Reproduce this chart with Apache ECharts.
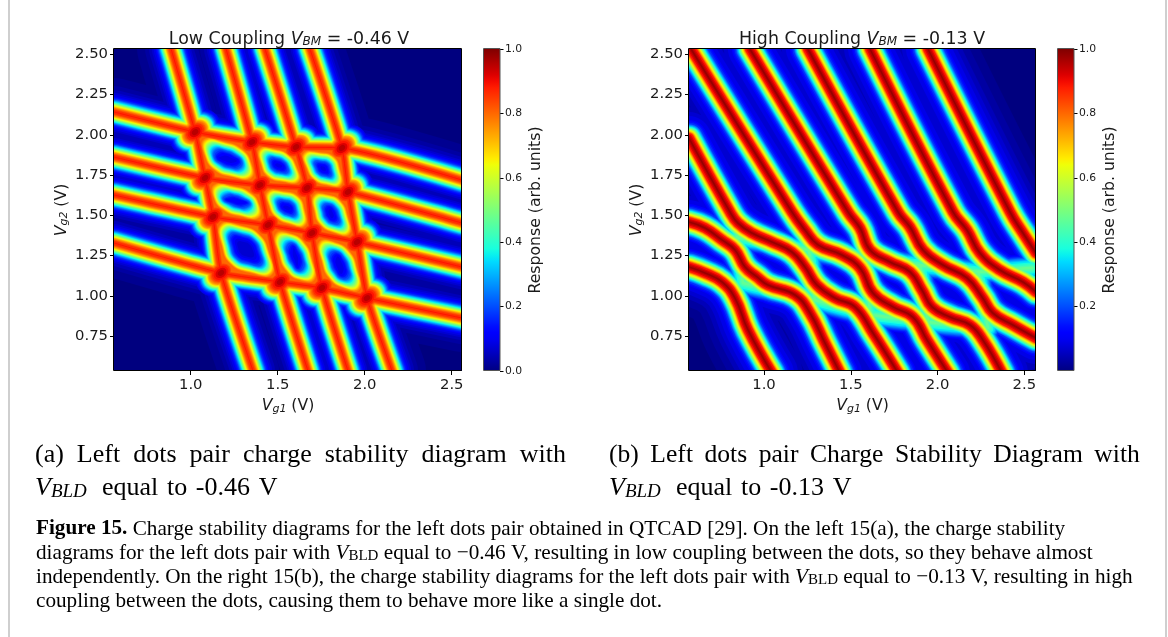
<!DOCTYPE html>
<html><head><meta charset="utf-8">
<style>html,body{margin:0;padding:0;background:#fff}#c{width:1168px;height:637px}</style>
<script src="https://cdn.jsdelivr.net/npm/echarts@6/dist/echarts.min.js"></script>
</head><body><div id="c"></div>
<script>
// Ridge centre lines, [Vg1, Vg2] in volts
const lowSteep = [
 [[.887,2.533],[1.025,2.017],[1.082,1.732],[1.128,1.490],[1.174,1.142],[1.358,.533]],
 [[1.203,2.533],[1.352,1.955],[1.398,1.688],[1.444,1.440],[1.513,1.086],[1.674,.533]],
 [[1.427,2.533],[1.605,1.924],[1.668,1.670],[1.697,1.390],[1.754,1.049],[1.904,.533]],
 [[1.685,2.533],[1.869,1.918],[1.904,1.645],[1.956,1.334],[2.013,.986],[2.157,.533]]
];
const lowShallow = [
 [[.559,2.142],[1.025,2.017],[1.352,1.955],[1.605,1.924],[1.869,1.918],[2.559,1.719]],
 [[.559,1.862],[1.082,1.732],[1.398,1.688],[1.668,1.670],[1.904,1.645],[2.559,1.452]],
 [[.559,1.626],[1.128,1.490],[1.444,1.440],[1.697,1.390],[1.956,1.334],[2.559,1.179]],
 [[.559,1.328],[1.174,1.142],[1.513,1.086],[1.754,1.049],[2.013,.986],[2.559,.862]]
];
const lowCrossings = [
 [1.025,2.017],[1.352,1.955],[1.605,1.924],[1.869,1.918],
 [1.082,1.732],[1.398,1.688],[1.668,1.670],[1.904,1.645],
 [1.128,1.490],[1.444,1.440],[1.697,1.390],[1.956,1.334],
 [1.174,1.142],[1.513,1.086],[1.754,1.049],[2.013,.986]
];
const highRidges = [
 [[.568,1.980],[.804,1.521],[.850,1.452],[.931,1.390],[1.046,1.334],[1.161,1.272],[1.236,1.179],[1.305,1.067],[1.409,.986],[1.524,.931],[1.628,.769],[1.772,.521]],
 [[.580,2.533],[1.161,1.521],[1.236,1.409],[1.311,1.316],[1.449,1.254],[1.553,1.173],[1.628,1.018],[1.743,.931],[1.858,.868],[1.939,.726],[2.060,.521]],
 [[.919,2.533],[1.484,1.521],[1.553,1.421],[1.611,1.285],[1.726,1.210],[1.841,1.148],[1.910,1.036],[1.968,.931],[2.071,.868],[2.187,.819],[2.261,.726],[2.371,.521]],
 [[1.253,2.533],[1.772,1.521],[1.841,1.427],[1.916,1.285],[2.031,1.191],[2.169,1.111],[2.256,.993],[2.319,.893],[2.434,.819],[2.567,.738]],
 [[1.611,2.533],[2.089,1.521],[2.169,1.409],[2.244,1.266],[2.359,1.160],[2.492,1.086],[2.567,1.024]],
 [[1.945,2.533],[2.417,1.521],[2.492,1.390],[2.567,1.266]],
 [[.568,1.458],[.660,1.421],[.758,1.347],[.833,1.285],[.891,1.179],[.960,1.117],[1.023,1.067],[1.179,1.005],[1.265,.893],[1.351,.707],[1.438,.521]],
 [[.568,1.179],[.660,1.142],[.758,1.086],[.833,.986],[.908,.788],[1.046,.521]]
];
const highFaint = [
 [[.844,1.365],[1.259,1.285],[1.588,1.222],[1.899,1.191],[2.233,1.148],[2.544,1.173]],
 [[.879,1.080],[1.294,.974],[1.611,.881],[1.945,.837],[2.290,.800]],
 [[.844,1.365],[.879,1.080]],
 [[1.259,1.285],[1.294,.974]],
 [[1.588,1.222],[1.611,.881]],
 [[1.899,1.191],[1.945,.837]],
 [[2.233,1.148],[2.290,.800]]
];
const ticksVg1 = [1.0,1.5,2.0,2.5];
const ticksVg2 = [.75,1.0,1.25,1.5,1.75,2.0,2.25,2.5];
const ticksBarA = [0,.2,.4,.6,.8,1.0];
const ticksBarB = [.2,.4,.6,.8,1.0];
const barTop = [1];

// Colour levels of the jet response scale
const levels=[.015,.03,.05,.07,.09,.11,.14,.17,.2,.23,.26,.29,.32,.35,.38,.41,.44,.47,.5,.53,.56,.59,.62,.65,.68,.71,.74,.77,.8,.83,.86,.89,.92,.95,.98];
const SPLIT=.8;
const lerp=(a,x0,x1,y0,y1)=>y0+(y1-y0)*(a-x0)/(x1-x0);
function pw(v,k){for(let i=1;i<k.length;i++){if(v<=k[i][0])return lerp(v,k[i-1][0],k[i][0],k[i-1][1],k[i][1]);}return k[k.length-1][1];}
function jet(v){
 const r=pw(v,[[0,0],[.35,0],[.66,1],[.89,1],[1,.5]]),g=pw(v,[[0,0],[.125,0],[.375,1],[.64,1],[.91,0],[1,0]]),b=pw(v,[[0,.5],[.11,1],[.34,1],[.65,0],[1,0]]);
 return 'rgb('+[r,g,b].map(c=>Math.round(c*255)).join(',')+')';
}
const lowProfile=[[0,60],[.015,34],[.03,26],[.06,20],[.11,15.5],[.2,12.5],[.35,10],[.5,8],[.65,6],[.75,4.5],[.85,2.5],[.9,0],[2,0]];
const lowBlob=[[0,0],[.089,0],[.09,23],[.11,22],[.2,19.5],[.35,17],[.5,15],[.65,13],[.75,11.5],[.87,8],[.92,5],[.97,1.5],[.98,0],[2,0]];
const highProfile=[[0,60],[.02,42],[.04,33],[.07,26],[.11,18],[.2,14],[.35,11.5],[.5,9.5],[.65,7.5],[.75,6],[.89,4.5],[1,0],[2,0]];
const faintProfile=[[0,24],[.11,14],[.2,11],[.35,7],[.5,0],[2,0]];
const blobPath='path://M0,1A1,1 0 1 1 2,1A1,1 0 1 1 0,1Z';
const TIP=.92,ROUND=.74,BAND=1.12;

// Cell quads follow from the crossings grid
const quads=[];
for(let r=0;r<3;r++)for(let c=0;c<3;c++){
 const A=lowCrossings[r*4+c],B=lowCrossings[r*4+c+1],C=lowCrossings[(r+1)*4+c+1],D=lowCrossings[(r+1)*4+c];
 quads.push([A[0],A[1],B[0],B[1],C[0],C[1],D[0],D[1]]);
}
function lensPoints(q,v){
 const hw=pw(v,lowProfile)*BAND;
 const O=[(q[0][0]+q[1][0]+q[2][0]+q[3][0])/4,(q[0][1]+q[1][1]+q[2][1]+q[3][1])/4];
 const mid=(a,b)=>[(a[0]+b[0])/2,(a[1]+b[1])/2];
 const ms=[mid(q[0],q[1]),mid(q[1],q[2]),mid(q[2],q[3]),mid(q[3],q[0])];
 const ds=ms.map(m=>Math.hypot(m[0]-O[0],m[1]-O[1]));
 if(Math.min(...ds)-hw<2)return null;
 const t=1-hw/Math.min(...ds);
 const pts=[];
 for(let i=0;i<4;i++){
  const f=t*(i%2===0?TIP:ROUND);
  pts.push([O[0]+(q[i][0]-O[0])*f,O[1]+(q[i][1]-O[1])*f]);
  const e=1-hw/ds[i];
  pts.push([O[0]+(ms[i][0]-O[0])*e,O[1]+(ms[i][1]-O[1])*e]);
 }
 return pts;
}
const quadCoords=api=>{const pts=[];for(let i=0;i<8;i+=2)pts.push(api.coord([api.value(i),api.value(i+1)]));return pts;};

function flat(rs){const o=[];rs.forEach(r=>{r.forEach(p=>o.push(p));o.push([NaN,NaN]);});return o;}
const series=[];let zn=1;
function addLine(g,data,color,w,smooth){
 if(w<=0)return;
 series.push({type:'line',z:zn++,xAxisIndex:g,yAxisIndex:g,data,showSymbol:false,symbol:'none',silent:true,animation:false,smooth,connectNulls:false,
  lineStyle:{color,width:w,cap:'round',join:'round'}});
}
function addBlobs(v){
 const d=2*pw(v,lowBlob);
 if(d>0)series.push({type:'scatter',z:zn++,xAxisIndex:0,yAxisIndex:0,data:lowCrossings,symbol:blobPath,symbolKeepAspect:false,symbolSize:[d*1.2,d*.9],symbolRotate:38,silent:true,animation:false,clip:false,itemStyle:{color:jet(v),opacity:1}});
}
const lowAll=flat(lowSteep.concat(lowShallow)),highAll=flat(highRidges),faintAll=flat(highFaint);
const below=levels.filter(v=>v<=SPLIT),above=levels.filter(v=>v>SPLIT);
below.forEach(v=>{addLine(0,lowAll,jet(v),2*pw(v,lowProfile),.2);addBlobs(v);});
series.push({type:'custom',z:zn++,xAxisIndex:0,yAxisIndex:0,coordinateSystem:'cartesian2d',silent:true,animation:false,clip:false,data:quads,
 renderItem:(p,api)=>({type:'polygon',shape:{points:quadCoords(api)},style:{fill:jet(SPLIT)}})});
below.slice().reverse().forEach(v=>{
 if(v<.07)return;
 series.push({type:'custom',z:zn++,xAxisIndex:0,yAxisIndex:0,coordinateSystem:'cartesian2d',silent:true,animation:false,clip:false,data:quads,
  renderItem:(p,api)=>{const pts=lensPoints(quadCoords(api),v);if(!pts)return null;
   return {type:'polygon',shape:{points:pts,smooth:.5},style:{fill:jet(v)}};}});
});
above.forEach(v=>{addLine(0,lowAll,jet(v),2*pw(v,lowProfile),.2);addBlobs(v);});
levels.forEach(v=>{
 const c=jet(v);
 addLine(2,faintAll,c,2*pw(v,faintProfile),false);
 addLine(2,highAll,c,2*pw(v,highProfile),.45);
});
const stops=[];for(let i=50;i>=0;i--)stops.push({offset:1-i/50,color:jet(i/50)});
const grad={type:'linear',x:0,y:0,x2:0,y2:1,colorStops:stops};
[1,3].forEach(g=>series.push({type:'bar',z:1001,xAxisIndex:g,yAxisIndex:g,data:barTop,barWidth:'100%',silent:true,animation:false,itemStyle:{color:grad}}));

const F='"DejaVu Sans"',ink='#1a1a1a',AF=15.7;
const axRich={i:{fontFamily:F,fontStyle:'italic',fontSize:AF,color:ink},s:{fontFamily:F,fontStyle:'italic',fontSize:11,color:ink,verticalAlign:'bottom',padding:[6,0,0,0]},r:{fontFamily:F,fontSize:AF,color:ink}};
const mkX=(g,mn,mx)=>({gridIndex:g,z:1002,type:'value',min:mn,max:mx,splitLine:{show:false},axisLine:{show:false},
 axisTick:{show:true,customValues:ticksVg1,length:4,lineStyle:{color:'#000'}},
 axisLabel:{show:true,customValues:ticksVg1,formatter:v=>v.toFixed(1),fontFamily:F,fontSize:14.8,color:ink,margin:7},
 name:'{i|V}{s|g1}{r| (V)}',nameLocation:'middle',nameGap:22,nameTextStyle:{rich:axRich}});
const mkY=g=>({gridIndex:g,z:1002,type:'value',min:.533,max:2.533,splitLine:{show:false},axisLine:{show:false},
 axisTick:{show:true,customValues:ticksVg2,length:4,lineStyle:{color:'#000'}},
 axisLabel:{show:true,customValues:ticksVg2,formatter:v=>v.toFixed(2),fontFamily:F,fontSize:14.8,color:ink,margin:6},
 name:'{i|V}{s|g2}{r| (V)}',nameLocation:'middle',nameGap:44,nameTextStyle:{rich:axRich}});
const mkBarX=g=>({gridIndex:g,type:'category',data:[''],show:false});
const mkBarY=(g,t)=>({gridIndex:g,z:1002,type:'value',min:0,max:1,position:'right',splitLine:{show:false},axisLine:{show:false},
 axisTick:{show:true,customValues:t,length:3.5,lineStyle:{color:'#000'}},
 axisLabel:{show:true,customValues:t,formatter:v=>v.toFixed(1),fontFamily:F,fontSize:10.8,color:ink,margin:5},
 name:'Response (arb. units)',nameLocation:'middle',nameGap:28,nameRotate:90,nameTextStyle:{fontFamily:F,fontSize:AF,color:ink}});

const TF=17.4;
const titleRich={t:{fontFamily:F,fontWeight:'normal',fontSize:TF,color:ink},i:{fontFamily:F,fontWeight:'normal',fontStyle:'italic',fontSize:TF,color:ink},s:{fontFamily:F,fontWeight:'normal',fontStyle:'italic',fontSize:12,color:ink,verticalAlign:'bottom',padding:[6,0,0,0]}};
const mkTitle=(x,a,b)=>({z:1100,left:x,top:30,textAlign:'center',text:'{t|'+a+' }{i|V}{s|BM}{t| = '+b+' V}',textStyle:{fontWeight:'normal',rich:titleRich},padding:0});

const S='"Liberation Serif"',SF=26,BF=21.2;
const subRich={t:{fontFamily:S,fontSize:SF,color:'#111'},u:{fontFamily:S,fontSize:25.6,color:'#111'},i:{fontFamily:S,fontStyle:'italic',fontSize:SF,color:'#111'},s:{fontFamily:S,fontStyle:'italic',fontSize:19,color:'#111',verticalAlign:'bottom',padding:[8,0,0,0]}};
const bodyRich={t:{fontFamily:S,fontSize:BF,color:'#111'},b:{fontFamily:S,fontWeight:'bold',fontSize:BF,color:'#111'},c:{fontFamily:S,fontSize:BF,color:'#2a8fb8'},i:{fontFamily:S,fontStyle:'italic',fontSize:BF,color:'#111'},s:{fontFamily:S,fontSize:15,color:'#111',verticalAlign:'bottom',padding:[5,0,0,0]}};
const txt=(x,y,text,rich)=>({type:'text',x,y,z:1200,style:{x:0,y:0,text,rich,textBaseline:'middle',textVerticalAlign:'middle'}});
const frame=(x,y,w,h,s)=>({type:'rect',z:1150,silent:true,shape:{x,y,width:w,height:h},style:{fill:'none',stroke:s,lineWidth:1}});
const mask=(x,y,w,h)=>({type:'rect',z:1000,silent:true,shape:{x,y,width:w,height:h},style:{fill:'#fff'}});

const graphic=[
 mask(-100,-100,1368,149),mask(-100,371,1368,400),mask(-100,49,214,322),mask(462,49,227,322),mask(1036,49,232,322),
 {type:'rect',z:1001,silent:true,shape:{x:8,y:0,width:2,height:637},style:{fill:'#cfcfcf'}},
 {type:'rect',z:1001,silent:true,shape:{x:1165,y:0,width:2,height:637},style:{fill:'#cfcfcf'}},
 frame(113.5,48.5,348,322,'#000'),frame(688.5,48.5,347,322,'#000'),
 frame(483.5,48.5,16.5,322,'#555'),frame(1057.5,48.5,16.5,322,'#555'),
 txt(35,455,'{t|(a)  Left  dots  pair  charge  stability  diagram  with}',subRich),
 txt(35,488,'{i|V}{s|BLD}{t|  \u200aequal \u200ato \u200a-0.46 \u200aV}',subRich),
 txt(609,455,'{u|(b) \u2009Left \u2009dots \u2009pair \u2009Charge \u2009Stability \u2009Diagram \u2009with}',subRich),
 txt(609,488,'{i|V}{s|BLD}{t|  \u200aequal \u200ato \u200a-0.13 \u200aV}',subRich),
 txt(36,529,'{b|Figure 15.}{t| Charge stability diagrams for the left dots pair obtained in QTCAD [}{c|29}{t|]. On the left 15(a), the charge stability}',bodyRich),
 txt(36,553,'{t|diagrams for the left dots pair with }{i|V}{s|BLD}{t| equal to \u22120.46 V, resulting in low coupling between the dots, so they behave almost}',bodyRich),
 txt(36,577,'{t|independently. On the right 15(b), the charge stability diagrams for the left dots pair with }{i|V}{s|BLD}{t| equal to \u22120.13 V, resulting in high}',bodyRich),
 txt(36,601,'{t|coupling between the dots, causing them to behave more like a single dot.}',bodyRich)
];

const chart=echarts.init(document.getElementById('c'),null,{renderer:'canvas'});
chart.setOption({
 animation:false,backgroundColor:'#fff',
 title:[mkTitle(289,'Low Coupling','-0.46'),mkTitle(862,'High Coupling','-0.13')],
 grid:[
  {left:114,top:49,width:348,height:322,show:true,backgroundColor:'#00007f',borderWidth:0},
  {left:484,top:49,width:16,height:322,show:false},
  {left:689,top:49,width:347,height:322,show:true,backgroundColor:'#00007f',borderWidth:0},
  {left:1058,top:49,width:16,height:322,show:false}
 ],
 xAxis:[mkX(0,.559,2.559),mkBarX(1),mkX(2,.568,2.567),mkBarX(3)],
 yAxis:[mkY(0),mkBarY(1,ticksBarA),mkY(2),mkBarY(3,ticksBarB)],
 series,graphic
});
</script></body></html>
